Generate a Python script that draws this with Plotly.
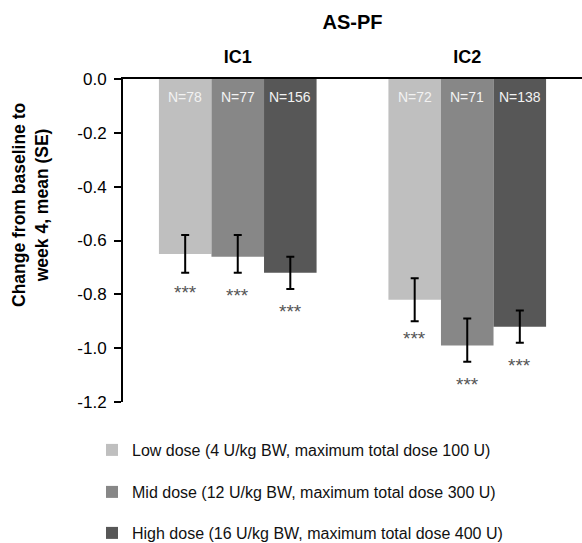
import plotly.graph_objects as go

# ---- data ----
categories = ["IC1", "IC2"]
series_names = [
    "Low dose (4 U/kg BW, maximum total dose 100 U)",
    "Mid dose (12 U/kg BW, maximum total dose 300 U)",
    "High dose (16 U/kg BW, maximum total dose 400 U)",
]
low_vals = [-0.65, -0.82]
mid_vals = [-0.66, -0.99]
high_vals = [-0.72, -0.92]
low_err_up = [0.07, 0.08]
low_err_down = [0.07, 0.08]
mid_err_up = [0.08, 0.10]
mid_err_down = [0.06, 0.06]
high_err_up = [0.06, 0.06]
high_err_down = [0.06, 0.06]
low_n = [78, 72]
mid_n = [77, 71]
high_n = [156, 138]
sig_labels = ["***", "***"]
tick_vals = [0.0, -0.2, -0.4, -0.6, -0.8, -1.0, -1.2]
tick_text = ["0.0", "-0.2", "-0.4", "-0.6", "-0.8", "-1.0", "-1.2"]

# ---- styling ----
colors = ["#bfbfbf", "#878787", "#575757"]
FONT = "Liberation Sans, Arial, sans-serif"
W, H = 582, 543
ML, MR, MT, MB = 123, 0, 79, 141
BARGAP = 0.313

values = [low_vals, mid_vals, high_vals]
errs_up = [low_err_up, mid_err_up, high_err_up]
errs_down = [low_err_down, mid_err_down, high_err_down]
ns = [low_n, mid_n, high_n]
legend_ids = ["legend", "legend2", "legend3"]

fig = go.Figure()
for i in range(3):
    fig.add_trace(go.Bar(
        x=categories,
        y=values[i],
        name=series_names[i],
        marker=dict(color=colors[i], line=dict(width=0)),
        error_y=dict(type="data", symmetric=False, array=errs_up[i],
                     arrayminus=errs_down[i], color="black", thickness=2, width=4),
        legend=legend_ids[i],
        hoverinfo="skip",
    ))

bar_w = (1 - BARGAP) / 3
for i in range(3):
    for j, cat in enumerate(categories):
        # sample size label near the top of each bar
        fig.add_annotation(
            x=j + (i - 1) * bar_w, xref="x", y=0, yref="y",
            text=f"N={ns[i][j]}", showarrow=False,
            yanchor="middle", yshift=-18,
            font=dict(family=FONT, size=14, color="#f2f2f2"),
        )
        # significance stars under each bar
        fig.add_annotation(
            x=j + (i - 1) * bar_w, xref="x",
            y=values[i][j], yref="y",
            text=sig_labels[j], showarrow=False,
            yanchor="middle", yshift=-39,
            font=dict(family=FONT, size=19, color="#555555"),
        )

# y-axis title as annotation (positioned like the reference)
plot_h = H - MT - MB
plot_w = W - ML - MR
fig.add_annotation(
    x=(30 - ML) / plot_w, xref="paper",
    y=(H - MB - 205) / plot_h, yref="paper",
    text="Change from baseline to<br>week 4, mean (SE)",
    textangle=-90, showarrow=False, xanchor="center", yanchor="middle",
    font=dict(family=FONT, size=17.5, color="black", weight="bold"),
)

legend_common = dict(
    xanchor="left", yanchor="middle", x=(92 - ML) / plot_w,
    bgcolor="rgba(0,0,0,0)", borderwidth=0,
    font=dict(family=FONT, size=16, color="#111111"),
)
row_px = [450, 492, 533]
layout_legends = {}
for k, lid in enumerate(legend_ids):
    layout_legends[lid] = dict(legend_common, y=(H - MB - row_px[k]) / plot_h)

fig.update_layout(
    width=W, height=H,
    margin=dict(l=ML, r=MR, t=MT, b=MB, autoexpand=False),
    paper_bgcolor="white", plot_bgcolor="white",
    barmode="group", bargap=BARGAP, bargroupgap=0,
    font=dict(family=FONT, color="black"),
    title=dict(text="<b>AS-PF</b>", x=0.5, xref="paper", xanchor="center",
               y=1 - 22 / H, yref="container", yanchor="middle",
               font=dict(family=FONT, size=20, color="black")),
    xaxis=dict(side="top", showline=True, linewidth=2, linecolor="black",
               ticks="", showgrid=False, zeroline=False,
               ticklabelstandoff=7,
               tickfont=dict(family=FONT, size=18, color="black", weight="bold"),
               range=[-0.5, 1.5]),
    yaxis=dict(range=[-1.2, 0], tickvals=tick_vals, ticktext=tick_text,
               showline=True, linewidth=2, linecolor="black",
               ticks="outside", ticklen=7, tickwidth=2, tickcolor="black",
               ticklabelstandoff=4,
               showgrid=False, zeroline=False,
               tickfont=dict(family=FONT, size=17, color="black")),
    showlegend=True,
    **layout_legends,
)

fig.write_html("out.html", config={"displayModeBar": False},
               post_script="document.body.style.margin='0px';")
